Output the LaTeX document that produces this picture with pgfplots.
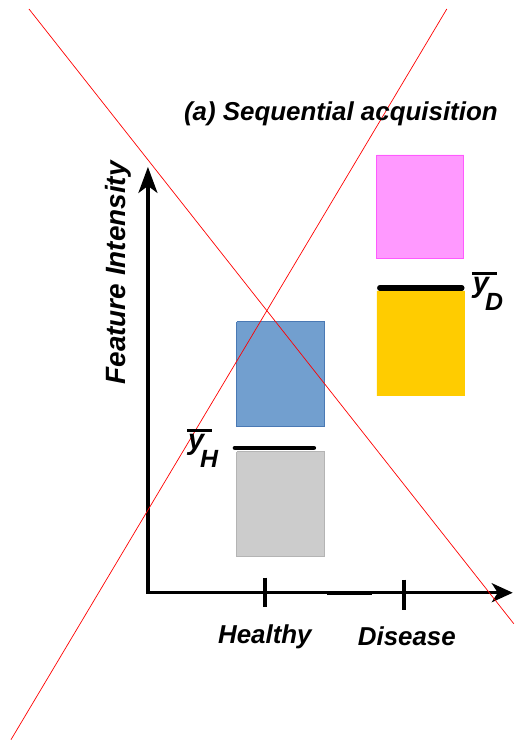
\documentclass[border=0pt]{standalone}
\usepackage{fontspec}
\setmainfont{Liberation Sans}
\usepackage{pgfplots}
\pgfplotsset{compat=1.18}
\usetikzlibrary{arrows.meta}
\definecolor{boxgray}{RGB}{204,204,204}
\definecolor{boxgrayd}{RGB}{180,180,180}
\definecolor{boxblue}{RGB}{114,159,207}
\definecolor{boxblued}{RGB}{74,121,180}
\definecolor{boxpink}{RGB}{255,153,255}
\definecolor{boxpinkd}{RGB}{255,90,255}
\definecolor{boxgold}{RGB}{255,204,0}
% mean label: thick bar over y, subscript set low
\newcommand\meanlabel[1]{%
  \rlap{\kern-1bp\rule[17.5bp]{25bp}{3.2bp}}{\fontsize{29}{29}\selectfont y}\kern-4bp\raisebox{-18bp}{\fontsize{25}{25}\selectfont #1}}
\tikzset{lbl/.style={font=\fontsize{26}{26}\selectfont\bfseries\itshape, inner sep=0pt}}
\begin{document}
\begin{tikzpicture}
\begin{axis}[
  width=514bp, height=740bp, scale only axis,
  xmin=0, xmax=514, ymin=0, ymax=740, y dir=reverse,
  hide axis, clip=false,
]
\path (rel axis cs:0,0) rectangle (rel axis cs:1,1);
% boxes: healthy
\addplot[fill=boxgray, draw=boxgrayd, line width=0.8bp] coordinates {(237,452) (325,452) (325,557) (237,557) (237,452)};
\addplot[fill=boxblue, draw=boxblued, line width=0.8bp] coordinates {(237,322) (325,322) (325,427) (237,427) (237,322)};
% boxes: disease
\addplot[fill=boxpink, draw=boxpinkd, line width=0.8bp] coordinates {(377,155) (464,155) (464,259) (377,259) (377,155)};
\addplot[fill=boxgold, draw=none] coordinates {(377,291) (465,291) (465,396) (377,396) (377,291)};
% means
\addplot[black, line width=4.5bp, line cap=round] coordinates {(235,448) (314,448)};
\addplot[black, line width=5.5bp, line cap=round] coordinates {(380,288) (462,288)};
% axes
\addplot[black, line width=3.2bp, line join=miter,
  {Stealth[length=26bp,width=19bp,inset=7bp]}-{Stealth[length=21bp,width=19bp,inset=6bp]}]
  coordinates {(148,167) (148,593) (513,593)};
\addplot[black, line width=4.5bp] coordinates {(327,593.5) (372,593.5)};
\addplot[black, line width=3.5bp] coordinates {(265,578) (265,607)};
\addplot[black, line width=3.5bp] coordinates {(404,580) (404,610)};
% crossing red lines
\addplot[red, line width=0.7bp] coordinates {(29,9) (514,624)};
\addplot[red, line width=0.7bp] coordinates {(447,9) (11,740)};
\coordinate (ttl) at (axis cs:341,114);
\coordinate (ylab) at (axis cs:118,273);
\coordinate (hl) at (axis cs:265,637);
\coordinate (dl) at (axis cs:407,637);
\coordinate (yh) at (axis cs:188,450);
\coordinate (yd) at (axis cs:473,293);
\end{axis}
\node[lbl] at (ttl) {(a) Sequential acquisition};
\node[lbl, rotate=90, font=\fontsize{28}{28}\selectfont\bfseries\itshape] at (ylab) {Feature Intensity};
\node[lbl] at (hl) {Healthy};
\node[lbl] at (dl) {Disease};
\node[lbl, anchor=base west] at (yh) {\meanlabel{H}};
\node[lbl, anchor=base west] at (yd) {\meanlabel{D}};
\end{tikzpicture}
\end{document}
